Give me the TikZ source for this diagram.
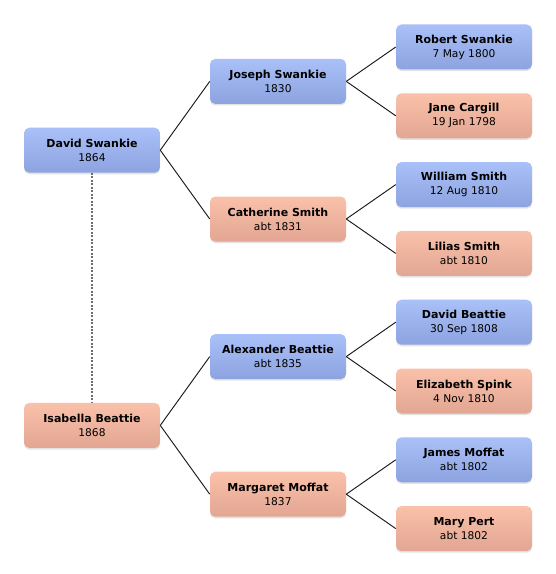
\documentclass[tikz,border=0pt]{standalone}
\usepackage{fontspec}
\setmainfont{DejaVu Sans}
\usetikzlibrary{shadows}
\definecolor{maletop}{RGB}{170,192,248}
\definecolor{malebot}{RGB}{141,163,224}
\definecolor{femaletop}{RGB}{250,193,170}
\definecolor{femalebot}{RGB}{226,166,146}

\begin{document}
\begin{tikzpicture}[x=0.75pt,y=-0.75pt,
  person/.style={rectangle,rounded corners=4pt,minimum width=102pt,minimum height=33.75pt,
    inner sep=0pt,align=center,text={rgb,255:red,0;green,0;blue,0},
    font=\fontsize{8.25}{10.5}\selectfont,
    drop shadow={opacity=0.22,shadow xshift=0pt,shadow yshift=-1.2pt}},
  male/.style={person,top color=maletop,bottom color=malebot},
  female/.style={person,top color=femaletop,bottom color=femalebot},
  link/.style={draw={rgb,255:red,25;green,25;blue,25},line width=0.7pt},
  spouse/.style={draw={rgb,255:red,110;green,110;blue,110},line width=1.1pt,dash pattern=on 1.5pt off 1.1pt}]
% 556px × 574px, light appearance
\path[fill=white] (0,0) rectangle (556,574);
% generation 0
\node[male] (dswankie) at (92,150.2) {\bfseries David Swankie\\\fontsize{8}{10}\selectfont 1864};
\node[female] (ibeattie) at (92,425.4) {\bfseries Isabella Beattie\\\fontsize{8}{10}\selectfont 1868};
% generation 1
\node[male] (jswankie) at (278,81.4) {\bfseries Joseph Swankie\\\fontsize{8}{10}\selectfont 1830};
\node[female] (csmith) at (278,219) {\bfseries Catherine Smith\\\fontsize{8}{10}\selectfont abt 1831};
\node[male] (abeattie) at (278,356.6) {\bfseries Alexander Beattie\\\fontsize{8}{10}\selectfont abt 1835};
\node[female] (mmoffat) at (278,494.2) {\bfseries Margaret Moffat\\\fontsize{8}{10}\selectfont 1837};
% generation 2
\node[male] (rswankie) at (464,47) {\bfseries Robert Swankie\\\fontsize{8}{10}\selectfont 7 May 1800};
\node[female] (jcargill) at (464,115.8) {\bfseries Jane Cargill\\\fontsize{8}{10}\selectfont 19 Jan 1798};
\node[male] (wsmith) at (464,184.6) {\bfseries William Smith\\\fontsize{8}{10}\selectfont 12 Aug 1810};
\node[female] (lsmith) at (464,253.4) {\bfseries Lilias Smith\\\fontsize{8}{10}\selectfont abt 1810};
\node[male] (dbeattie) at (464,322.2) {\bfseries David Beattie\\\fontsize{8}{10}\selectfont 30 Sep 1808};
\node[female] (espink) at (464,391) {\bfseries Elizabeth Spink\\\fontsize{8}{10}\selectfont 4 Nov 1810};
\node[male] (jmoffat) at (464,459.8) {\bfseries James Moffat\\\fontsize{8}{10}\selectfont abt 1802};
\node[female] (mpert) at (464,528.6) {\bfseries Mary Pert\\\fontsize{8}{10}\selectfont abt 1802};
% connectors
\draw[spouse] (dswankie.south) -- (ibeattie.north);
\draw[link] (dswankie.east) -- (jswankie.west);
\draw[link] (dswankie.east) -- (csmith.west);
\draw[link] (ibeattie.east) -- (abeattie.west);
\draw[link] (ibeattie.east) -- (mmoffat.west);
\draw[link] (jswankie.east) -- (rswankie.west);
\draw[link] (jswankie.east) -- (jcargill.west);
\draw[link] (csmith.east) -- (wsmith.west);
\draw[link] (csmith.east) -- (lsmith.west);
\draw[link] (abeattie.east) -- (dbeattie.west);
\draw[link] (abeattie.east) -- (espink.west);
\draw[link] (mmoffat.east) -- (jmoffat.west);
\draw[link] (mmoffat.east) -- (mpert.west);
\end{tikzpicture}
\end{document}
